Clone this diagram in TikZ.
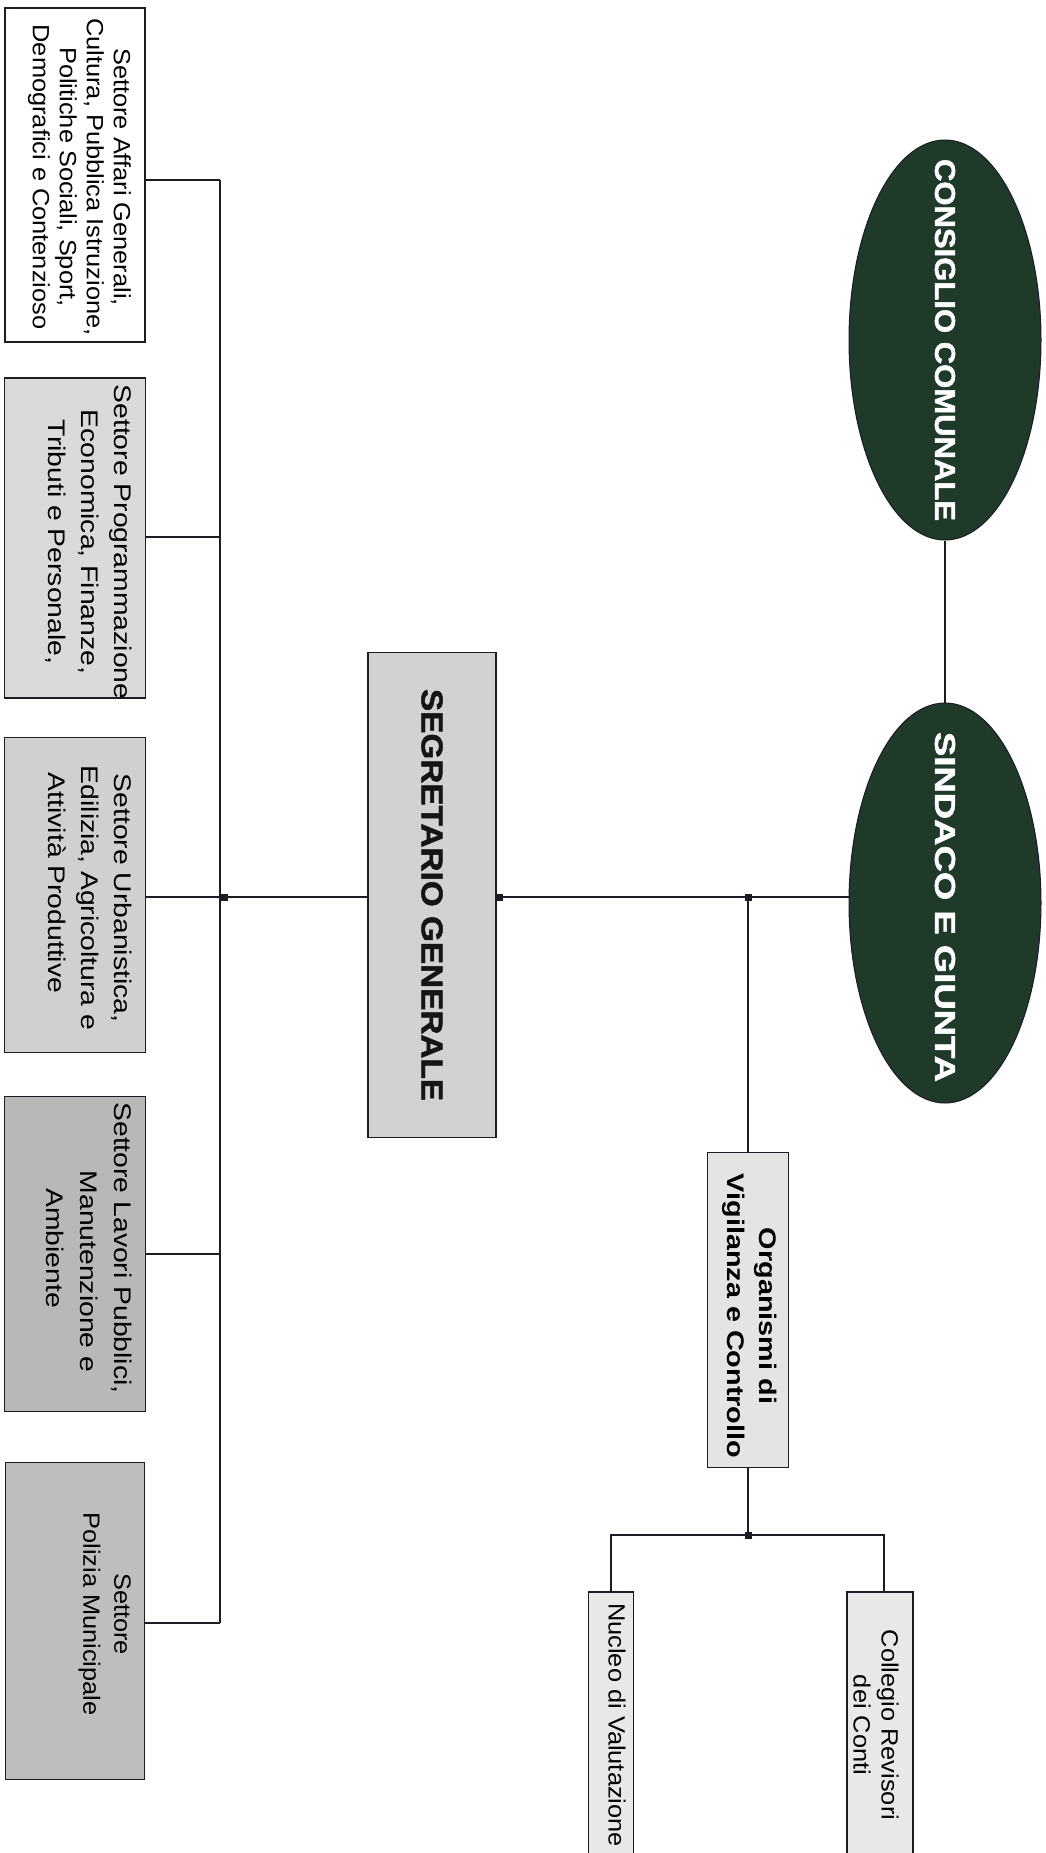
\documentclass[tikz,border=0pt]{standalone}
\usepackage{fontspec}
\usepackage{graphicx}
\setmainfont{Liberation Sans}
\newfontfamily\lab[FakeStretch=1.08]{Liberation Sans}
\newfontfamily\labw[FakeStretch=1.18]{Liberation Sans}
\newfontfamily\labb[FakeStretch=1.2]{Liberation Sans}
\newfontfamily\heavy[BoldFeatures={FakeBold=1.5}]{Liberation Sans}
\usetikzlibrary{shapes.geometric}
\definecolor{ellgreen}{HTML}{1F3A29}
\definecolor{linec}{HTML}{1C1C24}
\definecolor{gA}{HTML}{DADADA}
\definecolor{gB}{HTML}{D0D0D0}
\definecolor{gC}{HTML}{B8B8B8}
\definecolor{gD}{HTML}{BEBEBE}
\definecolor{gS}{HTML}{D2D2D2}
\definecolor{gO}{HTML}{E4E4E4}
\definecolor{gL}{HTML}{E8E8E8}
\tikzset{
  orgbox/.style={draw=linec, line width=1.6pt, inner sep=0pt, rectangle},
  ellbox/.style={ellipse, draw=linec, line width=1pt, fill=ellgreen, inner sep=0pt,
                 minimum width=192pt, minimum height=400pt},
  lbl/.style={inner sep=0pt, text=black, rotate=-90},
  link/.style={draw=linec, line width=1.8pt},
  jdot/.style={rectangle, fill=linec, minimum size=7pt, inner sep=0pt}
}
\begin{document}
\begin{tikzpicture}[x=1pt, y=-1pt]
\useasboundingbox (0,0) rectangle (1045,1853);
\clip (0,0) rectangle (1045,1853);
\fill[white] (0,0) rectangle (1045,1853);

% ellipses
\node[ellbox] (cc) at (945,340) {};
\node[inner sep=0pt, text=white] (cct) at (cc.center)
  {\rotatebox{-90}{\resizebox{362pt}{20pt}{\heavy\bfseries CONSIGLIO COMUNALE}}};
\node[ellbox] (sg) at (945,903) {};
\node[inner sep=0pt, text=white] (sgt) at ([yshift=-4pt]sg.center)
  {\rotatebox{-90}{\resizebox{350pt}{20pt}{\heavy\bfseries SINDACO E GIUNTA}}};

% segretario
\node[orgbox, fill=gS, minimum width=128pt, minimum height=485pt] (seg) at (432,895)
  {\rotatebox{-90}{\resizebox{412pt}{21pt}{\color[HTML]{151515}\heavy\bfseries SEGRETARIO GENERALE}}};

% organismi
\node[orgbox, fill=gO, minimum width=81pt, minimum height=315pt] (org) at (748,1310) {};
\node[lbl, align=center, font=\labb\bfseries\fontsize{24}{32}\selectfont] (orgt) at (750,1316)
  {Organismi di\\Vigilanza e Controllo};

% collegio / nucleo
\node[orgbox, fill=gL, minimum width=66pt, minimum height=270pt] (col) at (880,1727) {};
\node[lbl, align=center, font=\lab\fontsize{23.5}{28}\selectfont] (colt) at (876,1725)
  {Collegio Revisori\\dei Conti};
\node[orgbox, fill=gL, minimum width=45pt, minimum height=270pt] (nuc) at (611,1727) {};
\node[lbl, font=\lab\fontsize{23.5}{28}\selectfont] (nuct) at (617,1725)
  {Nucleo di Valutazione};

% settori
\node[orgbox, fill=white, minimum width=140pt, minimum height=334pt] (s1) at (75,175) {};
\node[lbl, anchor=north, align=center, font=\lab\fontsize{23.5}{27}\selectfont] (s1t) at (131,177)
  {Settore Affari Generali,\\Cultura, Pubblica Istruzione,\\Politiche Sociali, Sport,\\Demografici e Contenzioso};

\node[orgbox, fill=gA, minimum width=141pt, minimum height=320pt] (s2) at (75,538) {};
\node[lbl, anchor=north, align=center, font=\labw\fontsize{24}{33}\selectfont] (s2t) at (132,542)
  {Settore Programmazione\\Economica, Finanze,\\Tributi e Personale,};

\node[orgbox, fill=gB, minimum width=141pt, minimum height=315pt] (s3) at (75,895) {};
\node[lbl, anchor=north, align=center, font=\labw\fontsize{24}{33}\selectfont] (s3t) at (132,898)
  {Settore Urbanistica,\\Edilizia, Agricoltura e\\Attività Produttive\kern30pt};

\node[orgbox, fill=gC, minimum width=141pt, minimum height=315pt] (s4) at (75,1254) {};
\node[lbl, anchor=north, align=center, font=\labw\fontsize{24}{34}\selectfont] (s4t) at (132,1248)
  {Settore Lavori Pubblici,\\\kern47pt Manutenzione e\\Ambiente};

\node[orgbox, fill=gD, minimum width=139pt, minimum height=317pt] (s5) at (75,1621) {};
\node[lbl, anchor=north, align=center, font=\lab\fontsize{23.5}{31}\selectfont] (s5t) at (131,1614)
  {Settore\\Polizia Municipale};

% junction points
\coordinate (b1) at (220,180);
\coordinate (b2) at (220,537);
\coordinate (b3) at (220,897);
\coordinate (b4) at (220,1254);
\coordinate (b5) at (220,1623);
\coordinate (jr) at (498,897);
\coordinate (jo) at (748,897);
\coordinate (jb) at (748,1535);
\coordinate (jn) at (611,1535);
\coordinate (jc) at (884,1535);

% connectors
\draw[link] (cc) -- (sg);
\draw[link] (sg.west |- jo) -- (jo) -- (jr) -- (seg.east |- jr);
\draw[link] (jo) -- (org.north);
\draw[link] (seg.west |- b3) -- (b3);
\draw[link] (b1) -- (b5);
\draw[link] (s1.east |- b1) -- (b1);
\draw[link] (s2.east |- b2) -- (b2);
\draw[link] (s3.east |- b3) -- (b3);
\draw[link] (s4.east |- b4) -- (b4);
\draw[link] (s5.east |- b5) -- (b5);
\draw[link] (org.south) -- (jb);
\draw[link] (nuc.north -| jn) -- (jn) -- (jc) -- (col.north -| jc);

% junction dots
\node[jdot] (d1) at (224,897) {};
\node[jdot] (d2) at (499,897) {};
\node[jdot] (d3) at (748,897) {};
\node[jdot] (d4) at (748,1535) {};
\end{tikzpicture}
\end{document}
